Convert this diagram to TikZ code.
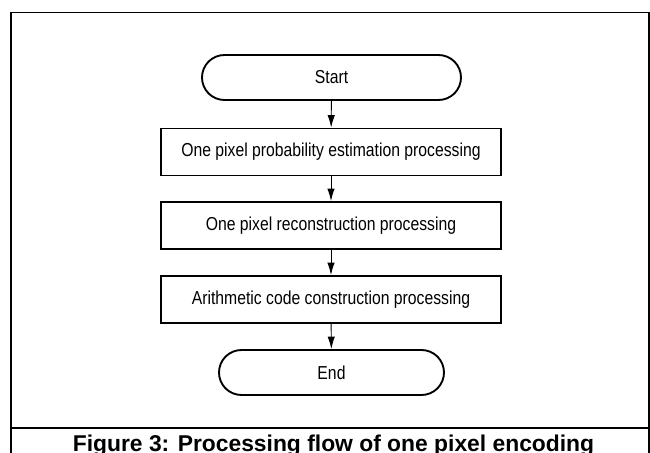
\documentclass[tikz,border=0pt]{standalone}
\usepackage{fontspec}
\newfontfamily\flowfont[FakeStretch=0.84]{Liberation Sans}
\newfontfamily\captionfont{Liberation Sans}
\usetikzlibrary{arrows.meta}

\tikzset{terminal/.style={draw,line width=1.6pt,rounded corners=0.675cm,minimum width=7.77cm,minimum height=1.35cm,inner sep=0pt,font=\flowfont\fontsize{16}{18}\selectfont},
process/.style={draw,line width=1.6pt,minimum width=10.2cm,minimum height=1.41cm,inner sep=0pt,font=\flowfont\fontsize{16}{18}\selectfont},
flow/.style={line width=0.8pt,-{Latex[length=0.37cm,width=0.22cm]}},
frame/.style={line width=1.3pt},
figure caption/.style={anchor=base,inner sep=0pt,font=\captionfont\bfseries\fontsize{19.5}{22}\selectfont}}

\begin{document}
\begin{tikzpicture}
% one pixel = 0.03cm, the picture is 650 x 453 pixels
\useasboundingbox (0,0) rectangle (19.5,13.59);

%% Coordinates of the centres.
\coordinate (cstart) at (9.945,11.265);
\coordinate (cprob) at (9.930,9.030);
\coordinate (crecon) at (9.930,6.825);
\coordinate (carith) at (9.930,4.605);
\coordinate (cend) at (9.945,2.415);

%% frame corners
\coordinate (fbl) at (0.330,-0.200);
\coordinate (ftl) at (0.330,13.221);
\coordinate (ftr) at (19.470,13.221);
\coordinate (fbr) at (19.470,-0.200);
\coordinate (sepl) at (0.330,0.750);
\coordinate (sepr) at (19.470,0.750);

%% frame
\draw [frame] (fbl) -- (ftl) -- (ftr) -- (fbr);
\draw [frame] (sepl) -- (sepr);

%% boxes
\node [terminal] (start) at (cstart) {Start};
\node [process] (prob) at (cprob) {One pixel probability estimation processing};
\node [process] (recon) at (crecon) {One pixel reconstruction processing};
\node [process] (arith) at (carith) {Arithmetic code construction processing};
\node [terminal,minimum width=6.75cm] (end) at (cend) {End};

%% arrows
\draw [flow] (start) -- (prob);
\draw [flow] (prob) -- (recon);
\draw [flow] (recon) -- (arith);
\draw [flow] (arith) -- (end);

%% caption
\node [figure caption] (caption) at (10.005,0.045) {Figure 3: Processing flow of one pixel encoding};

\end{tikzpicture}
\end{document}
